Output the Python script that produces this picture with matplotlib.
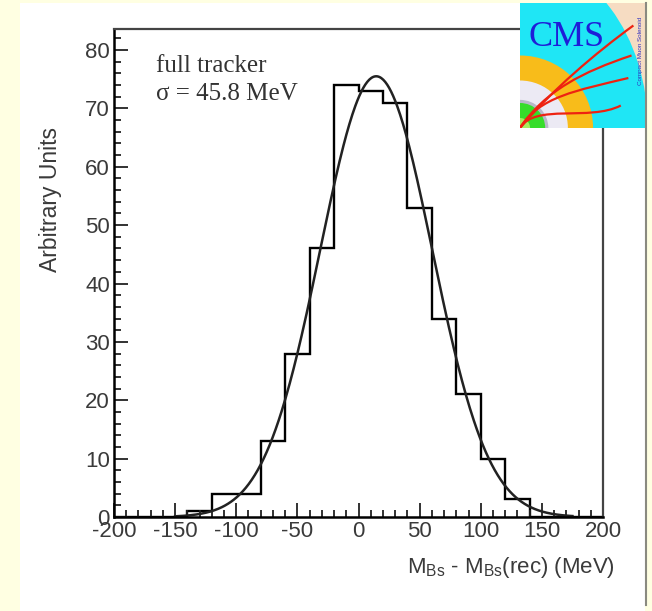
import numpy as np
import matplotlib
matplotlib.use("Agg")
import matplotlib.pyplot as plt
from matplotlib.patches import Rectangle, Wedge, Ellipse, PathPatch
from matplotlib.lines import Line2D
from matplotlib.path import Path
from matplotlib.ticker import MultipleLocator

# mass residual histogram, 20 MeV bins
bin_edges = np.arange(-200, 201, 20)
counts = [0, 0, 0, 1, 4, 4, 13, 28, 46, 74, 73, 71, 53, 34, 21, 10, 3, 0, 0, 0]

# gaussian fit
fit_amplitude = 75.5
fit_mean = 14.5
fit_sigma = 45.8
fit_range = (-150, 175)

plt.rcParams['font.family'] = ['Liberation Sans', 'DejaVu Sans']
plt.rcParams['mathtext.fontset'] = 'custom'
plt.rcParams['mathtext.rm'] = 'Liberation Sans'
plt.rcParams['mathtext.it'] = 'Liberation Sans'
plt.rcParams['axes.unicode_minus'] = False

W, H = 652, 611
fig = plt.figure(figsize=(W / 100, H / 100), dpi=100)
fig.patch.set_facecolor('#FFFFE2')
fig.patches.append(Rectangle((20 / W, 0), 625 / W, 608 / H, transform=fig.transFigure,
                             facecolor='white', edgecolor='none', zorder=-10))
fig.add_artist(Line2D([645.5 / W] * 2, [6 / H, 608 / H], transform=fig.transFigure,
                      color='#8a8a80', lw=1.5))

ax = fig.add_axes([114 / W, 94 / H, 489 / W, 488 / H])
ax.stairs(counts, bin_edges, color='black', lw=1.7)
x = np.linspace(fit_range[0], fit_range[1], 400)
y = fit_amplitude * np.exp(-0.5 * ((x - fit_mean) / fit_sigma) ** 2)
ax.plot(x, y, color='#222222', lw=1.8)

ax.set_xlim(-200, 200)
ax.set_ylim(0, 83.6)
ax.xaxis.set_major_locator(MultipleLocator(50))
ax.xaxis.set_minor_locator(MultipleLocator(10))
ax.yaxis.set_major_locator(MultipleLocator(10))
ax.yaxis.set_minor_locator(MultipleLocator(2))
ax.tick_params(which='both', direction='in', top=False, right=False,
               labelsize=16, labelcolor='#3a3a3a', width=1.3, color='#222222')
ax.tick_params(which='major', length=10)
ax.tick_params(which='minor', length=5)
ax.tick_params(axis='y', pad=3)
ax.tick_params(axis='x', pad=3)
for side in ['left', 'bottom']:
    ax.spines[side].set_linewidth(1.8)
for side in ['top', 'right']:
    ax.spines[side].set_linewidth(1.6)
    ax.spines[side].set_color('#444444')

fig.text(51 / W, 1 - 199 / H, 'Arbitrary Units', rotation=90, ha='center', va='center',
         fontsize=16.5, color='#3a3a3a')
fig.text(615 / W, 1 - 567 / H, r'M$_{\rm Bs}$ - M$_{\rm Bs}$(rec) (MeV)', ha='right',
         va='center', fontsize=16, color='#3a3a3a')

fig.text(156 / W, 1 - 72 / H, 'full tracker', fontsize=18, family='Liberation Serif',
         color='#333333', va='baseline')
fig.text(156 / W, 1 - 100 / H, f'\u03c3 = {fit_sigma} MeV', fontsize=18,
         family='Liberation Serif', color='#333333', va='baseline')

# CMS logo in the top right corner
logo = fig.add_axes([520 / W, 1 - 128 / H, 126 / W, 125 / H])
logo.set_xlim(0, 1)
logo.set_ylim(0, 1)
logo.axis('off')
logo.add_patch(Rectangle((0, 0), 1, 1, facecolor='#F6DCC2', edgecolor='none'))
logo.add_patch(Ellipse((0, 0), 2.03, 2.71, facecolor='#1FE6F5', edgecolor='none'))
logo.add_patch(Wedge((0, 0), 0.58, 0, 90, facecolor='#F8BC1A', edgecolor='none'))
logo.add_patch(Wedge((0, 0), 0.38, 0, 90, facecolor='#ECEAF4', edgecolor='none'))
logo.add_patch(Wedge((0, 0), 0.225, 0, 90, facecolor='#B8B8C8', edgecolor='none'))
logo.add_patch(Wedge((0, 0), 0.2, 0, 90, facecolor='#36DD2A', edgecolor='none'))
logo.add_patch(Wedge((0, 0), 0.08, 0, 90, facecolor='#A6F060', edgecolor='none'))
tracks = [
    [(0, 0), (0.25, 0.3), (0.6, 0.6), (0.9, 0.82)],
    [(0, 0), (0.2, 0.3), (0.5, 0.45), (0.885, 0.58)],
    [(0, 0), (0.15, 0.25), (0.45, 0.3), (0.86, 0.40)],
    [(0, 0), (0.12, 0.2), (0.55, 0.05), (0.8, 0.18)],
]
for pts in tracks:
    path = Path(pts, [Path.MOVETO, Path.CURVE4, Path.CURVE4, Path.CURVE4])
    logo.add_patch(PathPatch(path, facecolor='none', edgecolor='#EE2211', lw=1.6))
logo.text(0.07, 0.66, 'CMS', fontsize=26, family='Liberation Serif', color='#1E1ED8',
          va='baseline', ha='left')
logo.text(0.955, 0.615, 'Compact Muon Solenoid', fontsize=4.5, rotation=90, color='#3030C0',
          ha='center', va='center')

fig.savefig('out.png', dpi=100, facecolor=fig.get_facecolor())
